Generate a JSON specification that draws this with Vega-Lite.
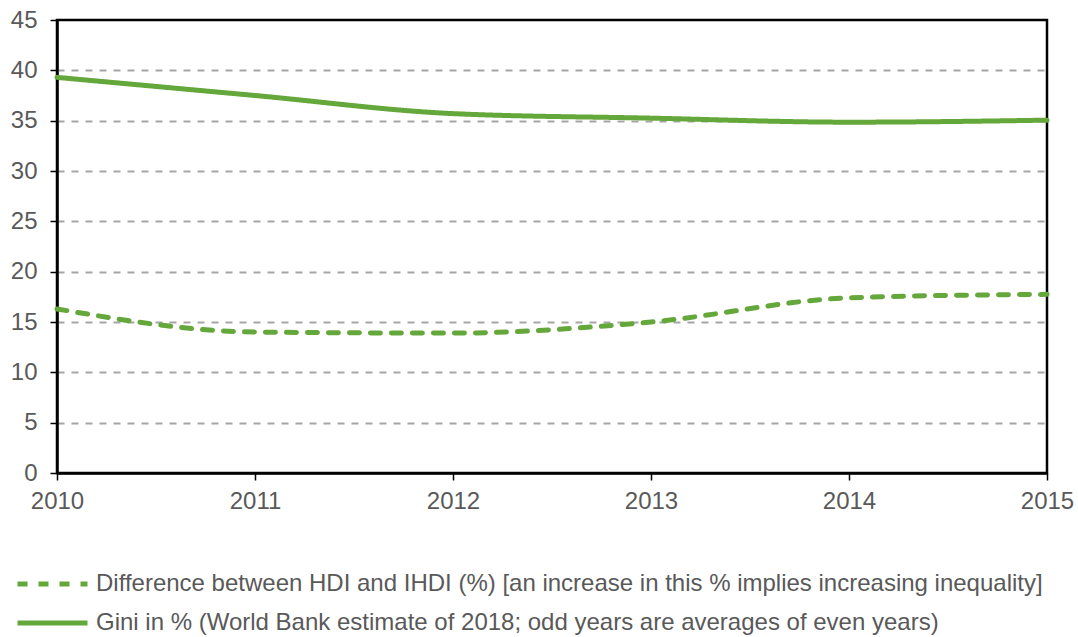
{
  "$schema": "https://vega.github.io/schema/vega-lite/v6.json",
  "autosize": "none",
  "width": 990,
  "height": 453,
  "padding": {"left": 57, "top": 20, "right": 31, "bottom": 164},
  "background": "white",
  "config": {
    "view": {"stroke": "#000000", "strokeWidth": 2.5},
    "font": "Liberation Sans",
    "axis": {
      "labelFont": "Liberation Sans",
      "labelFontSize": 24,
      "labelColor": "#595959",
      "domainColor": "#000000",
      "domainWidth": 2.5,
      "tickColor": "#000000",
      "tickWidth": 1.5,
      "tickSize": 7,
      "title": null
    }
  },
  "data": {
    "values": [
      {"year": 2010, "series": "Difference between HDI and IHDI (%) [an increase in this % implies increasing inequality]", "value": 16.3},
      {"year": 2011, "series": "Difference between HDI and IHDI (%) [an increase in this % implies increasing inequality]", "value": 14.0},
      {"year": 2012, "series": "Difference between HDI and IHDI (%) [an increase in this % implies increasing inequality]", "value": 13.9},
      {"year": 2013, "series": "Difference between HDI and IHDI (%) [an increase in this % implies increasing inequality]", "value": 15.0},
      {"year": 2014, "series": "Difference between HDI and IHDI (%) [an increase in this % implies increasing inequality]", "value": 17.4},
      {"year": 2015, "series": "Difference between HDI and IHDI (%) [an increase in this % implies increasing inequality]", "value": 17.75},
      {"year": 2010, "series": "Gini in % (World Bank estimate of 2018; odd years are averages of even years)", "value": 39.3},
      {"year": 2011, "series": "Gini in % (World Bank estimate of 2018; odd years are averages of even years)", "value": 37.5},
      {"year": 2012, "series": "Gini in % (World Bank estimate of 2018; odd years are averages of even years)", "value": 35.7},
      {"year": 2013, "series": "Gini in % (World Bank estimate of 2018; odd years are averages of even years)", "value": 35.25},
      {"year": 2014, "series": "Gini in % (World Bank estimate of 2018; odd years are averages of even years)", "value": 34.85},
      {"year": 2015, "series": "Gini in % (World Bank estimate of 2018; odd years are averages of even years)", "value": 35.05}
    ]
  },
  "mark": {"type": "line", "interpolate": "monotone", "strokeWidth": 5, "strokeCap": "round", "clip": false},
  "encoding": {
    "x": {
      "field": "year",
      "type": "quantitative",
      "scale": {"domain": [2010, 2015], "nice": false, "zero": false},
      "axis": {"values": [2010, 2011, 2012, 2013, 2014, 2015], "format": "d", "grid": false, "labelPadding": 9, "labelFlush": false}
    },
    "y": {
      "field": "value",
      "type": "quantitative",
      "scale": {"domain": [0, 45], "nice": false},
      "axis": {
        "values": [0, 5, 10, 15, 20, 25, 30, 35, 40, 45],
        "grid": true,
        "gridColor": "#a6a6a6",
        "gridWidth": 2,
        "gridDash": [7, 7],
        "gridOpacity": {"condition": {"test": "datum.value === 45 || datum.value === 0", "value": 0}, "value": 1},
        "labelPadding": 13
      }
    },
    "color": {
      "field": "series",
      "type": "nominal",
      "scale": {
        "domain": [
          "Difference between HDI and IHDI (%) [an increase in this % implies increasing inequality]",
          "Gini in % (World Bank estimate of 2018; odd years are averages of even years)"
        ],
        "range": ["#64a73a", "#64a73a"]
      },
      "legend": {
        "title": null,
        "orient": "none",
        "legendX": -42,
        "legendY": 553,
        "direction": "vertical",
        "symbolType": "stroke",
        "symbolSize": 4900,
        "symbolStrokeWidth": 5,
        "clipHeight": 22,
        "rowPadding": 15,
        "labelFontSize": 24,
        "labelColor": "#595959",
        "labelFont": "Liberation Sans",
        "labelLimit": 1100,
        "labelOffset": 6
      }
    },
    "strokeDash": {
      "field": "series",
      "type": "nominal",
      "scale": {
        "domain": [
          "Difference between HDI and IHDI (%) [an increase in this % implies increasing inequality]",
          "Gini in % (World Bank estimate of 2018; odd years are averages of even years)"
        ],
        "range": [[10, 11], [1, 0]]
      },
      "legend": {
        "title": null,
        "orient": "none",
        "legendX": -42,
        "legendY": 553,
        "direction": "vertical",
        "symbolType": "stroke",
        "symbolSize": 4900,
        "symbolStrokeWidth": 5,
        "clipHeight": 22,
        "rowPadding": 15,
        "labelFontSize": 24,
        "labelColor": "#595959",
        "labelFont": "Liberation Sans",
        "labelLimit": 1100,
        "labelOffset": 6
      }
    }
  }
}
